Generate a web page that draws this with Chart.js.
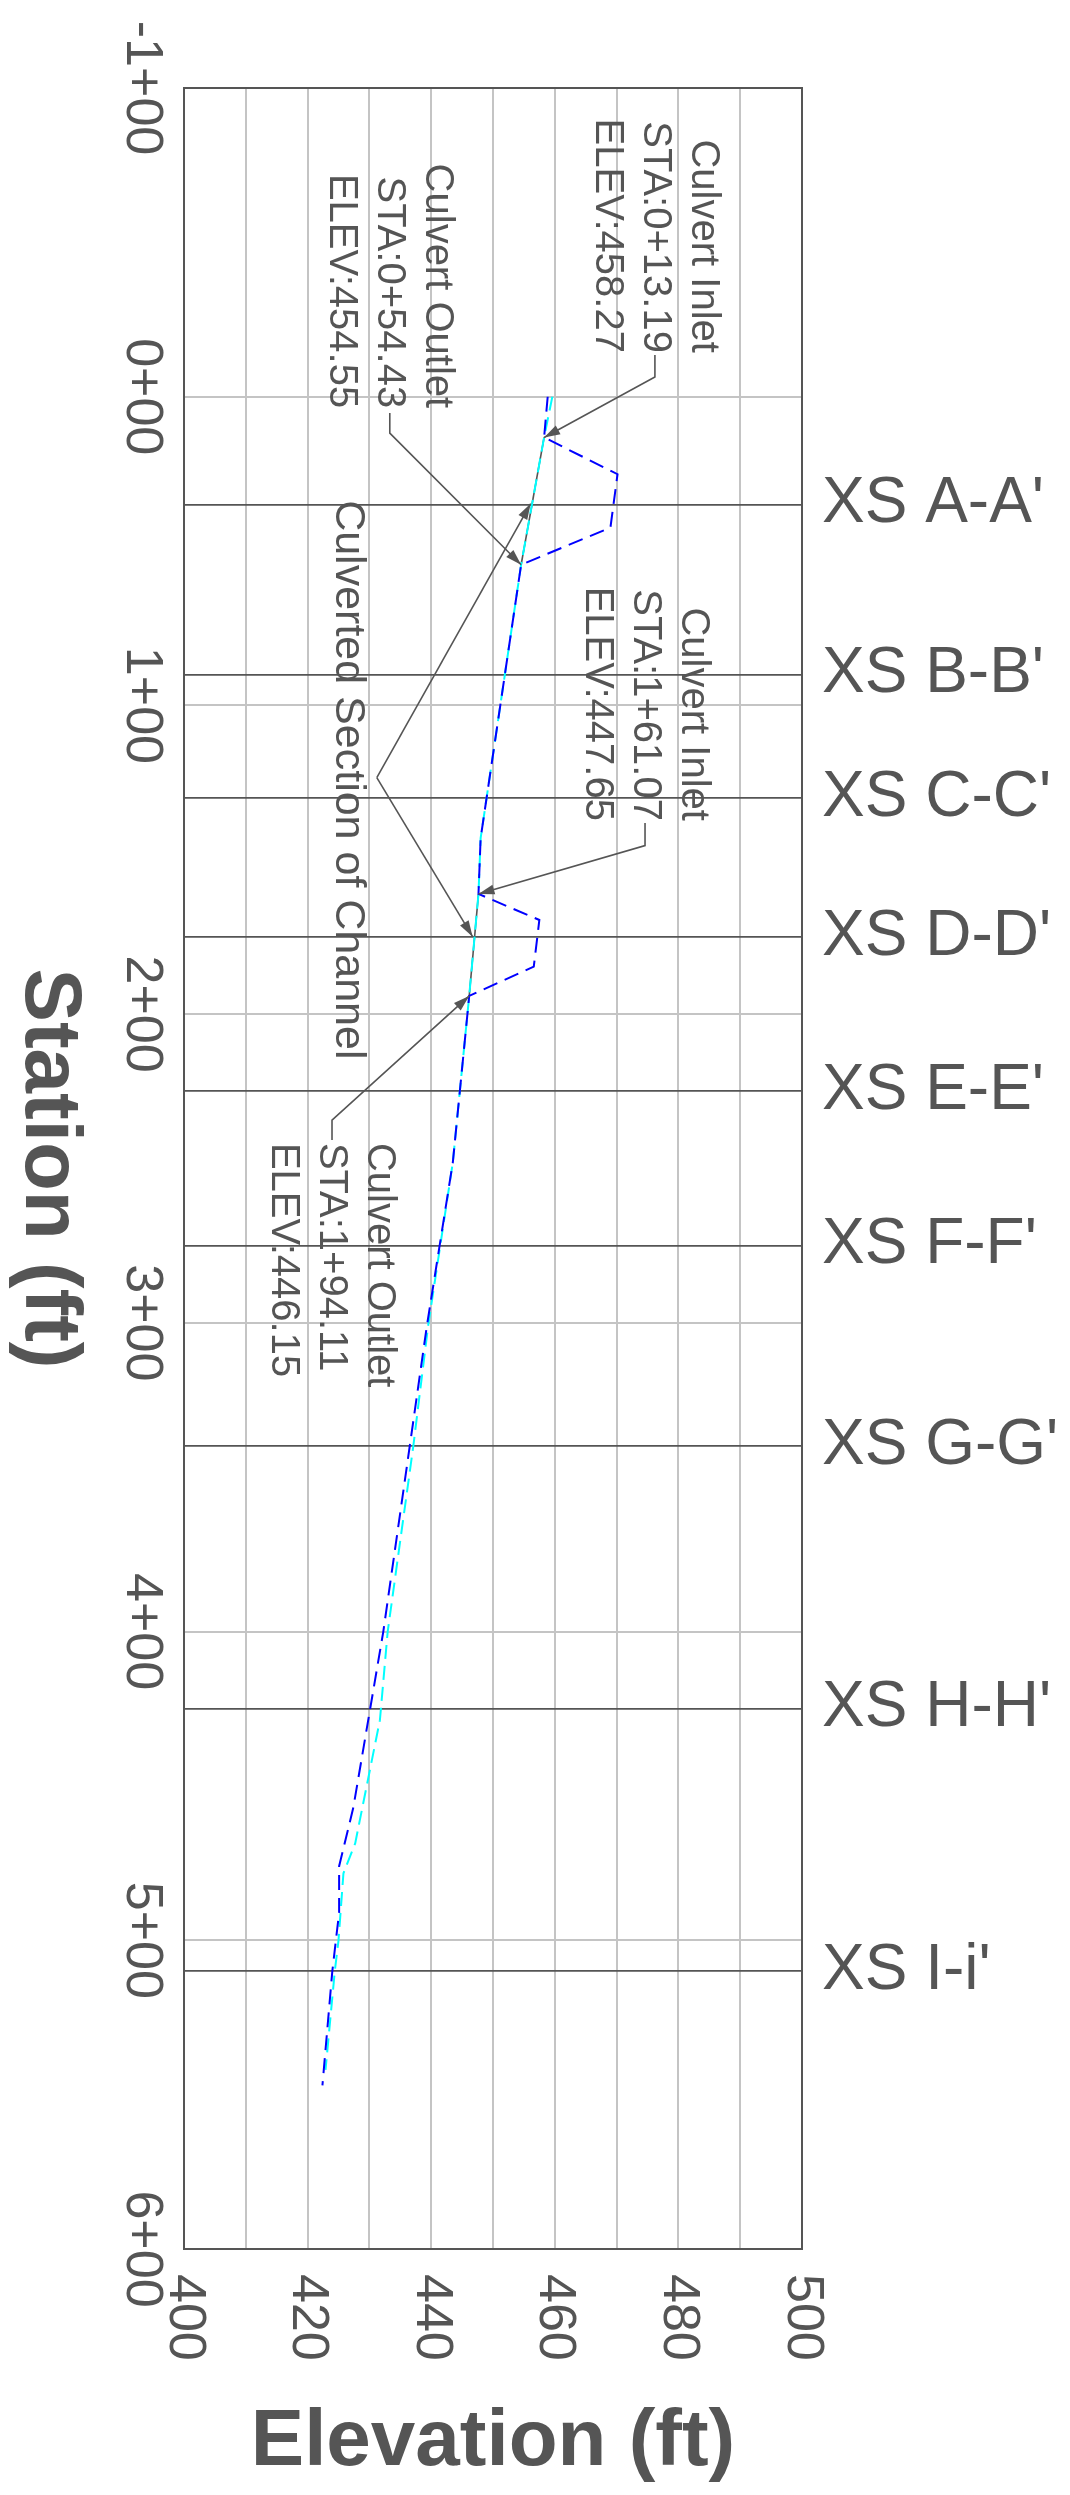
<!DOCTYPE html>
<html>
<head>
<meta charset="utf-8">
<title>Channel Profile</title>
<script src="https://cdn.jsdelivr.net/npm/chart.js@4.4.1/dist/chart.umd.min.js"></script>
<style>
    html, body { margin: 0; padding: 0; background: #ffffff; }
    #profile { display: block; }
</style>
</head>
<body>
<canvas id="profile" width="1070" height="2495"></canvas>
<script>
// Blue dashed profile (station ft, elevation ft)
const blueStations = [0, 13.19, 25.1, 42.4, 54.43, 143, 161.07, 169.5, 184.6, 194.11, 248, 301, 400, 457, 476, 491, 510, 547];
const blueElevations = [458.85, 458.27, 470.15, 469.0, 454.55, 448.0, 447.65, 457.5, 456.6, 446.15, 443.5, 439.3, 432.25, 427.4, 425.1, 425.1, 424.0, 422.4];

// Cyan dashed profile
const cyanStations = [0, 13.19, 54.43, 143, 161.07, 194.11, 248, 301, 340, 400, 428.7, 468.6, 478.3, 500, 510, 542];
const cyanElevations = [459.6, 458.27, 454.55, 448.0, 447.65, 446.15, 443.5, 439.5, 437.1, 432.96, 431.7, 427.7, 425.8, 425.0, 424.4, 422.9];

// Culvert inverts
const inletStations = [13.19, 161.07];
const inletElevations = [458.27, 447.65];
const outletStations = [54.43, 194.11];
const outletElevations = [454.55, 446.15];

// Cross sections
const xsStations = [35, 90, 130, 175, 225, 275, 340, 425, 510];
const xsLabels = ["XS A-A'", "XS B-B'", "XS C-C'", "XS D-D'", "XS E-E'", "XS F-F'", "XS G-G'", "XS H-H'", "XS I-i'"];

// Axis ticks
const stationTicks = [-100, 0, 100, 200, 300, 400, 500, 600];
const stationTickLabels = ['-1+00', '0+00', '1+00', '2+00', '3+00', '4+00', '5+00', '6+00'];
const elevationTicks = [400, 420, 440, 460, 480, 500];

const TEXT = '#555555';
const FONT = 'Arial, "Liberation Sans", sans-serif';

// Callouts, anchored in elevation/station units
const callouts = [
    { lines: ['Culvert Inlet', 'STA:0+13.19', 'ELEV:458.27'], elev: 484.0, sta: -14.2, align: 'right',
      leaders: [[[476.2, -13.5], [476.2, -6.4], [inletElevations[0], inletStations[0]]]] },
    { lines: ['Culvert Outlet', 'STA:0+54.43', 'ELEV:454.55'], elev: 440.9, sta: 3.7, align: 'right',
      leaders: [[[433.3, 5.3], [433.3, 11.8], [outletElevations[0], outletStations[0]]]] },
    { lines: ['Culvert Inlet', 'STA:1+61.07', 'ELEV:447.65'], elev: 482.4, sta: 137.4, align: 'right',
      leaders: [[[474.6, 138.1], [474.6, 145.4], [inletElevations[1], inletStations[1]]]] },
    { lines: ['Culvert Outlet', 'STA:1+94.11', 'ELEV:446.15'], elev: 431.55, sta: 241.7, align: 'left',
      leaders: [[[423.95, 240.8], [423.95, 234.3], [outletElevations[1], outletStations[1]]]] },
    { lines: ['Culverted Section of Channel'], elev: 426.5, sta: 33.5, align: 'left', size: 43,
      leaders: [[[431.2, 123.4], [456.1, 34.6]], [[431.2, 123.4], [446.7, 174.9]]] }
];

function rotatedText(ctx, text, x, y, align) {
    ctx.save();
    ctx.translate(x, y);
    ctx.rotate(Math.PI / 2);
    ctx.textAlign = align;
    ctx.textBaseline = 'middle';
    ctx.fillText(text, 0, 0);
    ctx.restore();
}

function arrowHead(ctx, x0, y0, x1, y1) {
    const a = Math.atan2(y1 - y0, x1 - x0);
    const len = 16, half = 5;
    ctx.beginPath();
    ctx.moveTo(x1, y1);
    ctx.lineTo(x1 - len * Math.cos(a) + half * Math.sin(a), y1 - len * Math.sin(a) - half * Math.cos(a));
    ctx.lineTo(x1 - len * Math.cos(a) - half * Math.sin(a), y1 - len * Math.sin(a) + half * Math.cos(a));
    ctx.closePath();
    ctx.fill();
}

const profilePlugin = {
    id: 'profileText',
    beforeDatasetsDraw(chart) {
        const { ctx, chartArea } = chart;
        ctx.save();
        ctx.strokeStyle = TEXT;
        ctx.lineWidth = 2;
        ctx.strokeRect(chartArea.left, chartArea.top, chartArea.right - chartArea.left, chartArea.bottom - chartArea.top);
        ctx.restore();
    },
    afterDatasetsDraw(chart) {
        const { ctx, chartArea } = chart;
        const xs = chart.scales.x;
        const ys = chart.scales.y;
        ctx.save();
        ctx.fillStyle = TEXT;
        ctx.strokeStyle = TEXT;

        // callouts
        callouts.forEach(c => {
            ctx.font = (c.size || 40) + 'px ' + FONT;
            const ax = xs.getPixelForValue(c.elev);
            const ay = ys.getPixelForValue(c.sta);
            c.lines.forEach((line, i) => rotatedText(ctx, line, ax - i * 48, ay, c.align));
            ctx.lineWidth = 1.6;
            c.leaders.forEach(path => {
                const pts = path.map(p => [xs.getPixelForValue(p[0]), ys.getPixelForValue(p[1])]);
                ctx.beginPath();
                pts.forEach((p, i) => i ? ctx.lineTo(p[0], p[1]) : ctx.moveTo(p[0], p[1]));
                ctx.stroke();
                const a = pts[pts.length - 2], b = pts[pts.length - 1];
                arrowHead(ctx, a[0], a[1], b[0], b[1]);
            });
        });

        // station tick labels
        ctx.font = '52px ' + FONT;
        stationTicks.forEach((v, i) => {
            rotatedText(ctx, stationTickLabels[i], 141, ys.getPixelForValue(v), 'center');
        });

        // elevation tick labels
        elevationTicks.forEach(v => {
            rotatedText(ctx, String(v), xs.getPixelForValue(v), chartArea.bottom + 25, 'left');
        });

        // axis titles
        ctx.font = 'bold 80px ' + FONT;
        rotatedText(ctx, 'Station (ft)', 48, (chartArea.top + chartArea.bottom) / 2, 'center');
        ctx.textAlign = 'center';
        ctx.textBaseline = 'alphabetic';
        ctx.fillText('Elevation (ft)', (chartArea.left + chartArea.right) / 2, 2465);
        ctx.restore();
    }
};

function toPoints(stations, elevations) {
    return stations.map((s, i) => ({ x: elevations[i], y: s }));
}

const lineStyle = { showLine: true, pointRadius: 0, tension: 0, fill: false };

new Chart(document.getElementById('profile'), {
    type: 'scatter',
    data: {
        datasets: [
            Object.assign({ label: 'Blue profile', data: toPoints(blueStations, blueElevations),
                borderColor: '#0000ff', borderWidth: 2, borderDash: [15, 8] }, lineStyle),
            Object.assign({ label: 'Cyan profile', data: toPoints(cyanStations, cyanElevations),
                borderColor: '#00ffff', borderWidth: 2, borderDash: [14, 7] }, lineStyle),
            Object.assign({ label: 'Culvert 1', data: toPoints([inletStations[0], outletStations[0]], [inletElevations[0], outletElevations[0]]),
                borderColor: '#555555', borderWidth: 1.6 }, lineStyle),
            Object.assign({ label: 'Culvert 2', data: toPoints([inletStations[1], outletStations[1]], [inletElevations[1], outletElevations[1]]),
                borderColor: '#555555', borderWidth: 1.6 }, lineStyle)
        ]
    },
    options: {
        responsive: false,
        animation: false,
        devicePixelRatio: 1,
        layout: { padding: { top: 88 } },
        plugins: {
            legend: { display: false },
            tooltip: { enabled: false }
        },
        scales: {
            x: {
                type: 'linear', position: 'bottom', min: 400, max: 500,
                ticks: { stepSize: 10, display: false },
                grid: { color: '#c4c4c4', lineWidth: 2, drawTicks: false },
                border: { display: false },
                afterFit: s => { s.height = 246; }
            },
            y: {
                type: 'linear', position: 'left', min: -100, max: 600, reverse: true,
                ticks: { stepSize: 100, display: false },
                grid: { color: '#c4c4c4', lineWidth: 2, drawTicks: false },
                border: { display: false },
                afterFit: s => { s.width = 184; }
            },
            y2: {
                type: 'linear', position: 'right', min: -100, max: 600, reverse: true,
                afterBuildTicks: s => { s.ticks = xsStations.map(v => ({ value: v })); },
                ticks: {
                    autoSkip: false, padding: 20, color: TEXT,
                    font: { size: 64, family: FONT },
                    callback: (v, i) => xsLabels[i]
                },
                grid: { color: '#555555', lineWidth: 1.7, drawTicks: false },
                border: { display: false },
                afterFit: s => { s.width = 268; }
            }
        }
    },
    plugins: [profilePlugin]
});
</script>
</body>
</html>
